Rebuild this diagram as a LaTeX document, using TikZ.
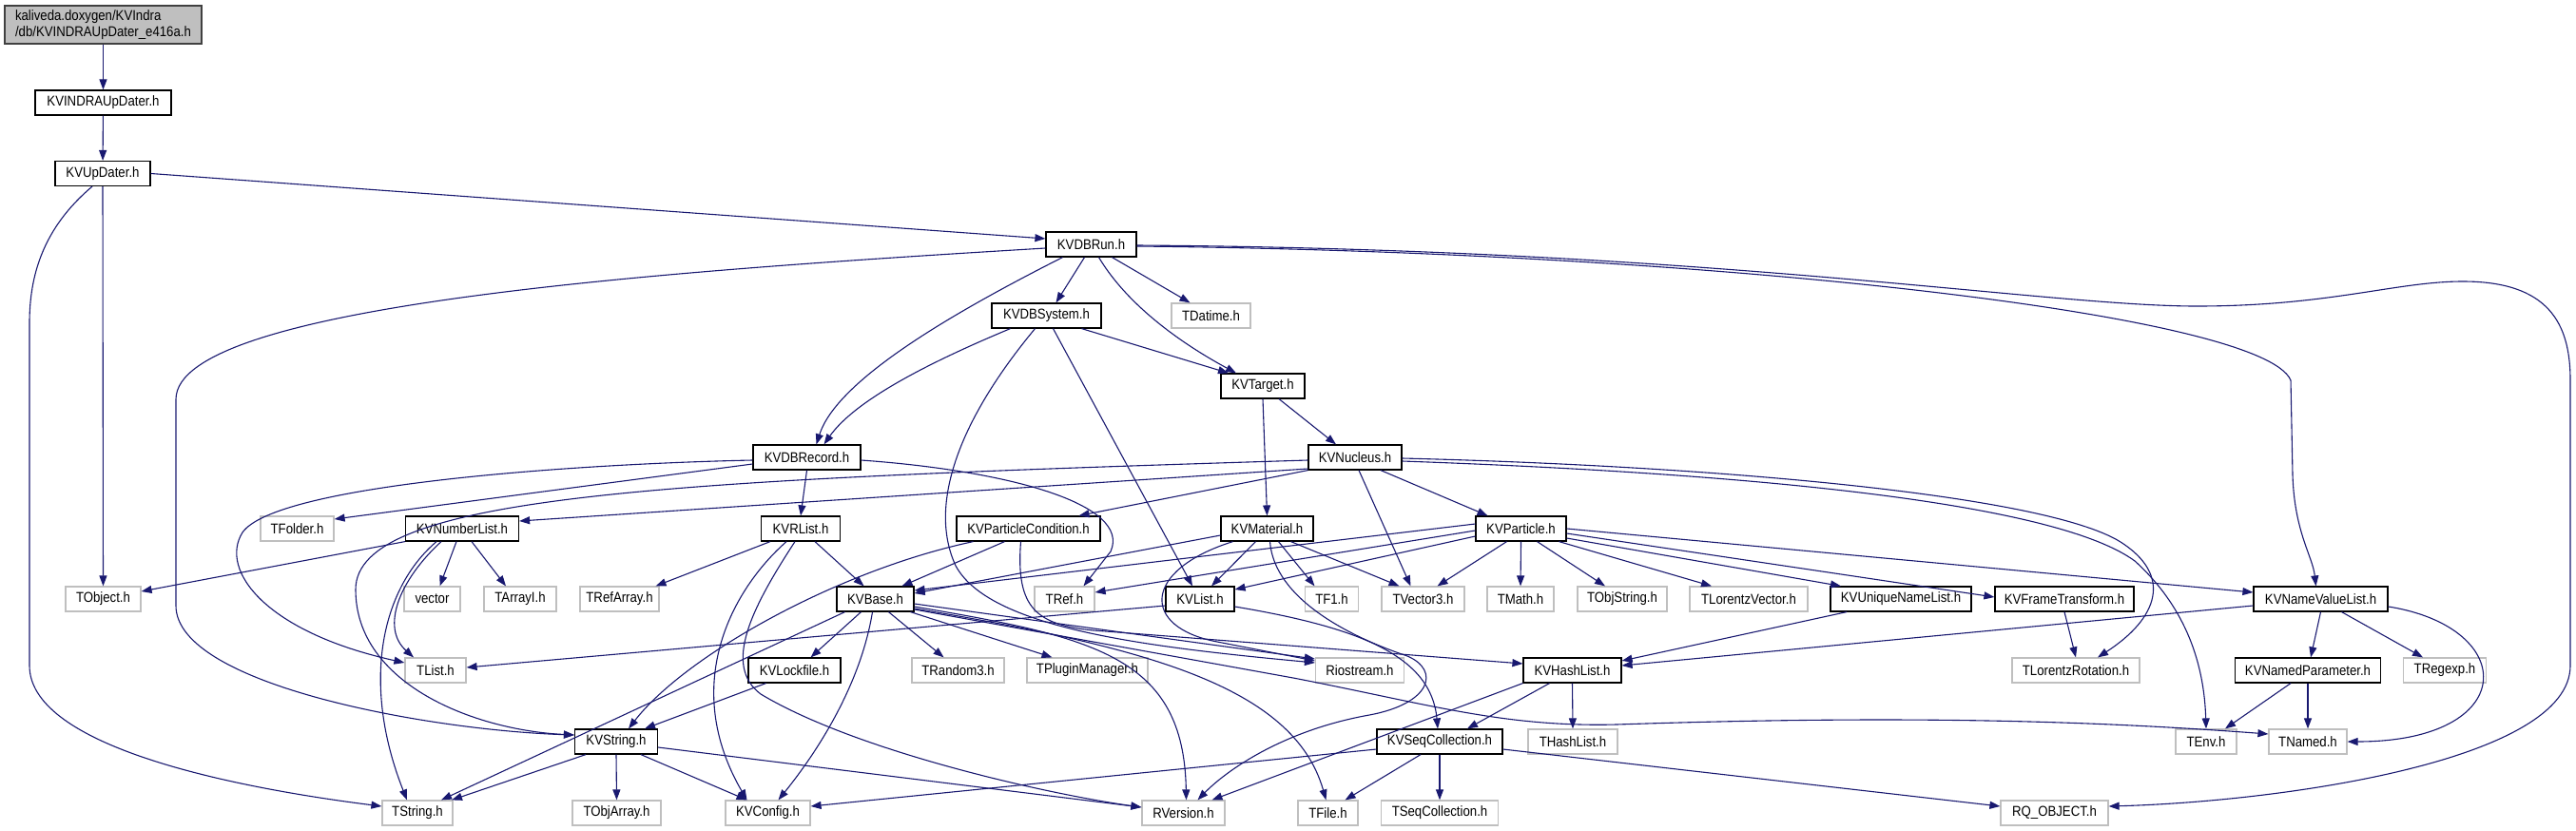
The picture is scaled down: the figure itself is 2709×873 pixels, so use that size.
\documentclass[tikz,border=0pt]{standalone}
\usepackage{fontspec}
\setmainfont{Liberation Sans}[FakeStretch=0.88]
\usetikzlibrary{arrows.meta}
\definecolor{edgeblue}{HTML}{191970}
\definecolor{extgray}{HTML}{BFBFBF}
\definecolor{rootborder}{HTML}{404040}
\newcommand\nodefont{\fontsize{15pt}{17pt}\selectfont}
\tikzset{
  kv/.style={draw=black, line width=1.2pt, fill=white, minimum height=26pt, inner sep=0pt, font=\nodefont},
  ext/.style={draw=extgray, line width=1.2pt, fill=white, minimum height=26pt, inner sep=0pt, font=\nodefont},
  rootbox/.style={draw=rootborder, line width=1.2pt, fill=extgray, minimum height=40pt, inner sep=0pt, align=left, font=\nodefont},
  e/.style={draw=edgeblue, line width=1.1pt, -{Triangle[length=11pt,width=8pt]}}
}
\begin{document}
\begin{tikzpicture}[x=1pt,y=-1pt]
\useasboundingbox (0,0) rectangle (2709,873);
% nodes
\node[rootbox, minimum width=207pt] (root) at (108.5,26) {kaliveda.doxygen/KVIndra\\/db/KVINDRAUpDater\_e416a.h};
\node[kv, minimum width=143pt] (KVINDRA) at (108.5,108) {KVINDRAUpDater.h};
\node[kv, minimum width=100pt] (KVUpDater) at (108,182.5) {KVUpDater.h};
\node[kv, minimum width=95pt] (KVDBRun) at (1147.5,257) {KVDBRun.h};
\node[kv, minimum width=115pt] (KVDBSystem) at (1100.5,332) {KVDBSystem.h};
\node[ext, minimum width=83pt] (TDatime) at (1273.5,332) {TDatime.h};
\node[kv, minimum width=88pt] (KVTarget) at (1328,406) {KVTarget.h};
\node[kv, minimum width=113pt] (KVDBRecord) at (848.5,481) {KVDBRecord.h};
\node[kv, minimum width=98pt] (KVNucleus) at (1425,481) {KVNucleus.h};
\node[ext, minimum width=77pt] (TFolder) at (312.5,556) {TFolder.h};
\node[kv, minimum width=119pt] (KVNumberList) at (486,556) {KVNumberList.h};
\node[kv, minimum width=83pt] (KVRList) at (842,556) {KVRList.h};
\node[kv, minimum width=151pt] (KVPC) at (1081.5,556) {KVParticleCondition.h};
\node[kv, minimum width=97pt] (KVMaterial) at (1332.5,556) {KVMaterial.h};
\node[kv, minimum width=95pt] (KVParticle) at (1599.5,556) {KVParticle.h};
\node[ext, minimum width=79pt] (TObject) at (108.5,630) {TObject.h};
\node[ext, minimum width=59pt] (vector) at (454.5,630) {vector};
\node[ext, minimum width=76pt] (TArrayI) at (547,630) {TArrayI.h};
\node[ext, minimum width=83pt] (TRefArray) at (651.5,630) {TRefArray.h};
\node[kv, minimum width=81pt] (KVBase) at (920.5,630) {KVBase.h};
\node[ext, minimum width=63pt] (TRef) at (1119.5,630) {TRef.h};
\node[kv, minimum width=72pt] (KVList) at (1262,630) {KVList.h};
\node[ext, minimum width=56pt] (TF1) at (1400.5,630) {TF1.h};
\node[ext, minimum width=87pt] (TVector3) at (1496.5,630) {TVector3.h};
\node[ext, minimum width=70pt] (TMath) at (1599,630) {TMath.h};
\node[ext, minimum width=94pt] (TObjString) at (1706,630) {TObjString.h};
\node[ext, minimum width=124pt] (TLorentzVector) at (1839,630) {TLorentzVector.h};
\node[kv, minimum width=148pt] (KVUNL) at (1999,630) {KVUniqueNameList.h};
\node[kv, minimum width=146pt] (KVFT) at (2171,630) {KVFrameTransform.h};
\node[kv, minimum width=141pt] (KVNVL) at (2440.5,630) {KVNameValueList.h};
\node[ext, minimum width=64pt] (TList) at (458,705) {TList.h};
\node[kv, minimum width=97pt] (KVLockfile) at (835.5,705) {KVLockfile.h};
\node[ext, minimum width=97pt] (TRandom3) at (1007.5,705) {TRandom3.h};
\node[ext, minimum width=127pt] (TPluginManager) at (1143.5,705) {TPluginManager.h};
\node[ext, minimum width=93pt] (Riostream) at (1430,705) {Riostream.h};
\node[kv, minimum width=103pt] (KVHashList) at (1653.5,705) {KVHashList.h};
\node[ext, minimum width=134pt] (TLR) at (2183,705) {TLorentzRotation.h};
\node[kv, minimum width=153pt] (KVNP) at (2427,705) {KVNamedParameter.h};
\node[ext, minimum width=87pt] (TRegexp) at (2571,705) {TRegexp.h};
\node[kv, minimum width=87pt] (KVString) at (648,780) {KVString.h};
\node[kv, minimum width=132pt] (KVSeq) at (1514,780) {KVSeqCollection.h};
\node[ext, minimum width=94pt] (THashList) at (1654,780) {THashList.h};
\node[ext, minimum width=64pt] (TEnv) at (2320,780) {TEnv.h};
\node[ext, minimum width=82pt] (TNamed) at (2427,780) {TNamed.h};
\node[ext, minimum width=74pt] (TString) at (439,855) {TString.h};
\node[ext, minimum width=93pt] (TObjArray) at (648.5,855) {TObjArray.h};
\node[ext, minimum width=89pt] (KVConfig) at (807.5,855) {KVConfig.h};
\node[ext, minimum width=87pt] (RVersion) at (1244.5,855) {RVersion.h};
\node[ext, minimum width=63pt] (TFile) at (1396.5,855) {TFile.h};
\node[ext, minimum width=123pt] (TSeqColl) at (1514,855) {TSeqCollection.h};
\node[ext, minimum width=113pt] (RQ) at (2160.5,855) {RQ\_OBJECT.h};
% edges
\draw[e] (root) -- (KVINDRA);
\draw[e] (KVINDRA) -- (KVUpDater);
\draw[e] (KVUpDater.east) -- ([yshift=6pt]KVDBRun.west);
\draw[e] (KVUpDater) -- (TObject);
\draw[e] ([xshift=-11pt]KVUpDater.south) .. controls (45,240) and (31,290) .. (31,340) -- (31,700) .. controls (31,780) and (220,825) .. ([yshift=7pt]TString.west);
% KVDBRun
\draw[e] ([xshift=-30pt]KVDBRun.south) .. controls (1000,330) and (880,400) .. ([xshift=10pt]KVDBRecord.north);
\draw[e] ([xshift=-7pt]KVDBRun.south) -- ([xshift=10pt]KVDBSystem.north);
\draw[e] ([xshift=8pt]KVDBRun.south) .. controls (1185,320) and (1240,360) .. ([xshift=-28pt]KVTarget.north);
\draw[e] ([xshift=22pt]KVDBRun.south) -- ([xshift=-22pt]TDatime.north);
\draw[e] ([yshift=-4pt]KVDBRun.west) .. controls (700,285) and (185,320) .. (185,420) -- (185,637) .. controls (185,720) and (450,768) .. ([yshift=7pt]KVString.west);
\draw[e] ([yshift=-2pt]KVDBRun.east) .. controls (1800,265) and (2380,330) .. (2409,400) -- (2411,500) .. controls (2413,560) and (2432,585) .. ([xshift=-5pt]KVNVL.north);
\draw[e] ([yshift=-1pt]KVDBRun.east) .. controls (1800,262) and (2150,322) .. (2310,322) .. controls (2450,322) and (2520,296) .. (2590,296) .. controls (2680,296) and (2703,340) .. (2703,400) -- (2703,700) .. controls (2703,800) and (2400,843) .. ([yshift=7pt]RQ.east);
% KVDBSystem
\draw[e] ([xshift=-38pt]KVDBSystem.south) .. controls (980,380) and (900,420) .. ([xshift=18pt]KVDBRecord.north);
\draw[e] ([xshift=37pt]KVDBSystem.south) -- ([xshift=-36pt]KVTarget.north);
\draw[e] ([xshift=7pt]KVDBSystem.south) -- ([xshift=-8pt]KVList.north);
\draw[e] ([xshift=-12pt]KVDBSystem.south) .. controls (1010,440) and (975,530) .. (1005,595) .. controls (1040,660) and (1200,680) .. ([yshift=8pt]Riostream.west);
% KVTarget
\draw[e] (KVTarget.south) -- (KVMaterial.north);
\draw[e] ([xshift=17pt]KVTarget.south) -- ([xshift=-20pt]KVNucleus.north);
% KVDBRecord
\draw[e] (KVDBRecord.south) -- (KVRList.north);
\draw[e] ([yshift=-7pt]KVDBRecord.west) -- ([yshift=10pt]TFolder.east);
\draw[e] ([yshift=-3pt]KVDBRecord.west) .. controls (600,488) and (290,510) .. (255,560) .. controls (230,600) and (280,665) .. ([yshift=8pt]TList.west);
\draw[e] ([yshift=-3pt]KVDBRecord.east) .. controls (1060,495) and (1190,530) .. (1168,580) -- ([xshift=20pt]TRef.north);
% KVNucleus
\draw[e] ([xshift=27pt]KVNucleus.south) -- ([xshift=-35pt]KVParticle.north);
\draw[e] ([xshift=4pt]KVNucleus.south) -- ([xshift=-13pt]TVector3.north);
\draw[e] (KVNucleus.south west) -- ([xshift=53pt]KVPC.north);
\draw[e] ([yshift=-12pt]KVNucleus.west) -- ([yshift=8pt]KVNumberList.east);
\draw[e] ([yshift=-3pt]KVNucleus.west) .. controls (700,505) and (374,520) .. (374,620) .. controls (374,720) and (500,768) .. ([yshift=7pt]KVString.west);
\draw[e] ([yshift=-1pt]KVNucleus.east) .. controls (1800,490) and (2150,520) .. (2230,570) .. controls (2285,605) and (2270,650) .. ([xshift=23pt]TLR.north);
\draw[e] ([yshift=-4pt]KVNucleus.east) .. controls (1900,500) and (2170,535) .. (2245,590) .. controls (2300,640) and (2318,700) .. (TEnv.north);
% KVRList
\draw[e] ([xshift=-32pt]KVRList.south) -- ([xshift=38pt]TRefArray.north);
\draw[e] ([xshift=-15pt]KVRList.south) .. controls (770,620) and (715,720) .. ([xshift=-22pt]KVConfig.north);
\draw[e] ([xshift=-6pt]KVRList.south) .. controls (790,640) and (760,700) .. (800,730) .. controls (900,790) and (1100,835) .. ([yshift=6pt]RVersion.west);
\draw[e] ([xshift=15pt]KVRList.south) -- ([xshift=-12pt]KVBase.north);
% KVNumberList
\draw[e] (KVNumberList.south west) -- ([yshift=8pt]TObject.east);
\draw[e] ([xshift=-6pt]KVNumberList.south) -- ([xshift=8pt]vector.north);
\draw[e] ([xshift=10pt]KVNumberList.south) -- ([xshift=-15pt]TArrayI.north);
\draw[e] ([xshift=-22pt]KVNumberList.south) .. controls (420,610) and (400,660) .. ([xshift=-23pt]TList.north);
\draw[e] ([xshift=-27pt]KVNumberList.south) .. controls (400,620) and (380,720) .. ([xshift=-11pt]TString.north);
% KVParticleCondition
\draw[e] ([xshift=-25pt]KVPC.south) -- ([xshift=28pt]KVBase.north);
\draw[e] ([xshift=-58pt]KVPC.south) .. controls (880,600) and (720,690) .. ([xshift=13pt]KVString.north);
\draw[e] ([xshift=-8pt]KVPC.south) .. controls (1068,640) and (1090,657) .. (1150,663) -- ([yshift=7pt]KVHashList.west);
% KVMaterial
\draw[e] ([yshift=-7pt]KVMaterial.west) -- ([yshift=6pt]KVBase.east);
\draw[e] ([xshift=-12pt]KVMaterial.south) -- ([xshift=12pt]KVList.north);
\draw[e] ([xshift=12pt]KVMaterial.south) -- ([xshift=-18pt]TF1.north);
\draw[e] ([xshift=25pt]KVMaterial.south) -- ([xshift=-25pt]TVector3.north);
\draw[e] ([xshift=-36pt]KVMaterial.south) .. controls (1200,600) and (1200,660) .. (1280,675) -- ([yshift=10pt]Riostream.west);
\draw[e] ([xshift=3pt]KVMaterial.south) .. controls (1340,630) and (1420,670) .. (1480,690) .. controls (1515,705) and (1505,740) .. (1440,752) .. controls (1350,768) and (1290,810) .. ([xshift=15pt]RVersion.north);
% KVParticle
\draw[e] ([yshift=5pt]KVParticle.west) -- ([yshift=9pt]KVBase.east);
\draw[e] ([yshift=-2pt]KVParticle.west) -- ([yshift=7pt]TRef.east);
\draw[e] ([yshift=-8pt]KVParticle.west) -- ([yshift=10pt]KVList.east);
\draw[e] ([xshift=-15pt]KVParticle.south) -- ([xshift=15pt]TVector3.north);
\draw[e] (KVParticle.south) -- (TMath.north);
\draw[e] ([xshift=17pt]KVParticle.south) -- ([xshift=-18pt]TObjString.north);
\draw[e] ([xshift=40pt]KVParticle.south) -- ([xshift=-39pt]TLorentzVector.north);
\draw[e] ([yshift=-10pt]KVParticle.east) -- ([xshift=-63pt]KVUNL.north);
\draw[e] ([yshift=-5pt]KVParticle.east) -- ([yshift=2pt]KVFT.west);
\draw[e] (KVParticle.east) -- ([yshift=7pt]KVNVL.west);
% KVBase
\draw[e] ([xshift=-32pt]KVBase.south) -- ([xshift=25pt]TString.north);
\draw[e] ([xshift=-15pt]KVBase.south) -- ([xshift=17pt]KVLockfile.north);
\draw[e] ([xshift=-3pt]KVBase.south) .. controls (905,720) and (860,790) .. ([xshift=11pt]KVConfig.north);
\draw[e] ([xshift=14pt]KVBase.south) -- ([xshift=-15pt]TRandom3.north);
\draw[e] ([xshift=37pt]KVBase.south) -- ([xshift=-37pt]TPluginManager.north);
\draw[e] ([yshift=-5pt]KVBase.east) -- ([yshift=12pt]Riostream.west);
\draw[e] ([yshift=-8pt]KVBase.east) .. controls (1150,670) and (1245,690) .. ([xshift=3pt]RVersion.north);
\draw[e] ([yshift=-10pt]KVBase.east) .. controls (1200,680) and (1360,720) .. ([xshift=-2pt]TFile.north);
\draw[e] ([yshift=-11pt]KVBase.east) -- (1360,713) .. controls (1500,740) and (1580,765) .. (1700,762) .. controls (2000,752) and (2200,758) .. ([yshift=8pt]TNamed.west);
% KVList
\draw[e] ([yshift=-7pt]KVList.west) -- ([yshift=3pt]TList.east);
\draw[e] ([yshift=-8pt]KVList.east) .. controls (1430,660) and (1505,690) .. ([xshift=-2pt]KVSeq.north);
% KVHashList
\draw[e] ([xshift=-24pt]KVHashList.south) -- ([xshift=29pt]KVSeq.north);
\draw[e] (KVHashList.south) -- (THashList.north);
\draw[e] (KVHashList.south west) -- ([xshift=30pt]RVersion.north);
% KVSeqCollection
\draw[e] ([xshift=-20pt]KVSeq.south) -- ([xshift=18pt]TFile.north);
\draw[e] (KVSeq.south) -- (TSeqColl.north);
\draw[e] ([yshift=-8pt]KVSeq.west) -- ([yshift=7pt]KVConfig.east);
\draw[e] ([yshift=-8pt]KVSeq.east) -- ([yshift=7pt]RQ.west);
% others
\draw[e] ([xshift=-57pt]KVUNL.south) -- ([yshift=10pt]KVHashList.east);
\draw[e] ([yshift=-7pt]KVNVL.west) -- ([yshift=5pt]KVHashList.east);
\draw[e] (KVNVL.south) -- ([xshift=3pt]KVNP.north);
\draw[e] ([xshift=22pt]KVNVL.south) -- ([xshift=-23pt]TRegexp.north);
\draw[e] ([yshift=-8pt]KVNVL.east) .. controls (2650,660) and (2650,780) .. (TNamed.east);
\draw[e] ([xshift=-18pt]KVNP.south) -- ([xshift=20pt]TEnv.north);
\draw[e] (KVNP.south) -- (TNamed.north);
\draw[e] (KVFT.south) -- (TLR.north);
\draw[e] ([xshift=-32pt]KVString.south) -- ([xshift=36pt]TString.north);
\draw[e] (KVString.south) -- (TObjArray.north);
\draw[e] ([xshift=26pt]KVString.south) -- ([xshift=-22pt]KVConfig.north);
\draw[e] ([yshift=-6pt]KVString.east) -- ([yshift=6pt]RVersion.west);
\draw[e] ([xshift=-30pt]KVLockfile.south) -- ([xshift=30pt]KVString.north);
\end{tikzpicture}
\end{document}
